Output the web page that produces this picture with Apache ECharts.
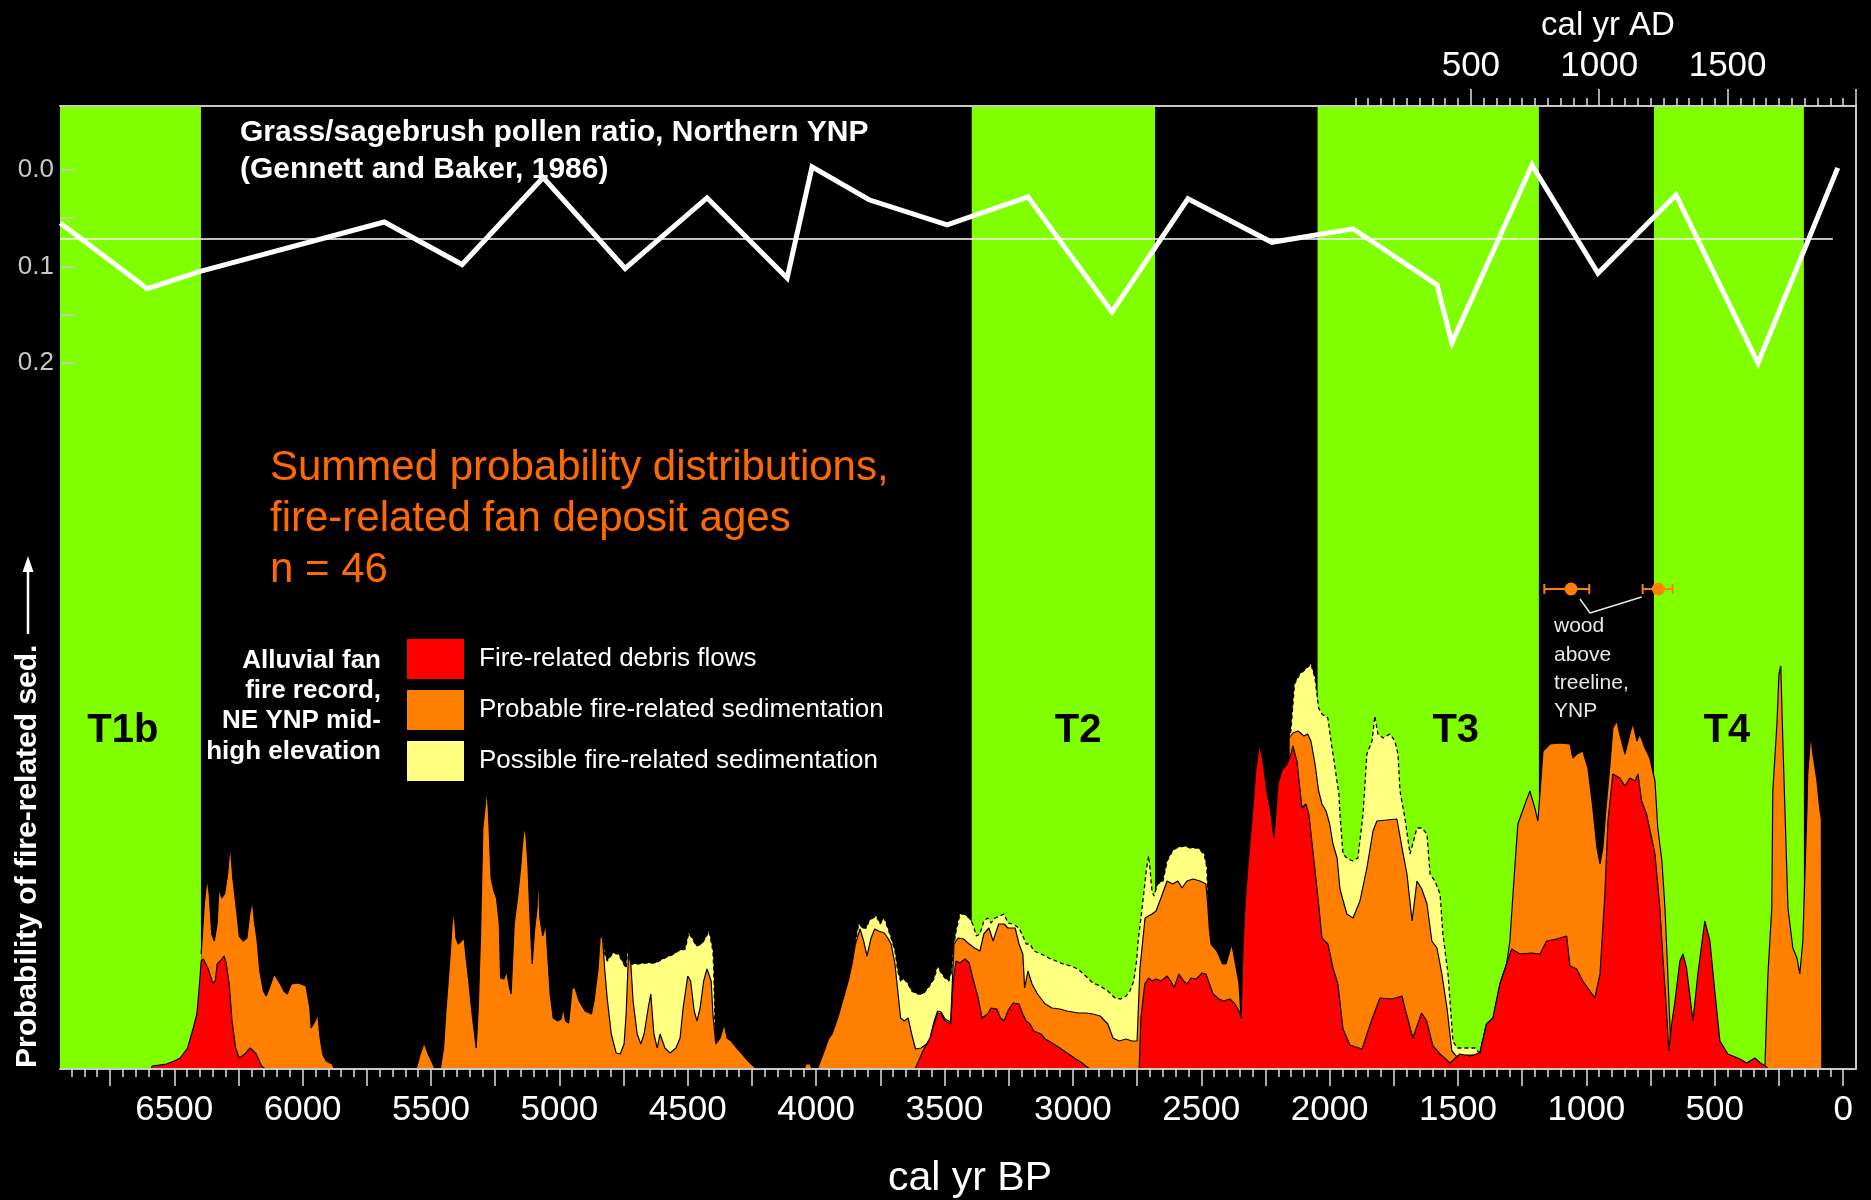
<!DOCTYPE html>
<html>
<head>
<meta charset="utf-8">
<script src="https://cdn.jsdelivr.net/npm/echarts@6/dist/echarts.min.js"></script>
<style>
html,body{margin:0;padding:0;background:#000;}
#chart{width:1871px;height:1200px;}
</style>
</head>
<body>
<div id="chart"></div>
<script>
// ---------- tick labels ----------
const bpLabelValues = [0,500,1000,1500,2000,2500,3000,3500,4000,4500,5000,5500,6000,6500];
const bpMajorTicks = [0,250,500,750,1000,1250,1500,1750,2000,2250,2500,2750,3000,3250,3500,3750,4000,4250,4500,4750,5000,5250,5500,5750,6000,6250,6500,6750];
const adLabelValues = [500,1000,1500];
const adMajorTicks = [500,1000,1500,2000];
const pollenTickValues = [0,0.05,0.1,0.15,0.2];
const pollenLabelValues = [0,0.1,0.2];

// ---------- pollen ratio (Gennett and Baker, 1986) ----------
const pollenBP    = [6944,6605,6399,5682,5379,5063,4744,4425,4113,4016,3794,3490,3175,2848,2552,2225,1909,1582,1524,1212,955,651,332,21];
const pollenRatio = [0.055,0.123,0.105,0.054,0.098,0.008,0.102,0.029,0.112,-0.003,0.031,0.057,0.028,0.147,0.030,0.075,0.061,0.119,0.179,-0.005,0.107,0.026,0.200,-0.002];
const pollenMean = 0.071;

// ---------- summed probability (cumulative tops, relative units) [cal yr BP, value] ----------
const redProb = [
[6590,0],[6586,0.3],[6531,0.5],[6500,0.8],[6477,1.1],[6448,2.1],[6426,4.1],[6412,5.5],[6403,8.1],[6395,10.8],[6387,11.0],[6369,10.1],[6350,8.6],[6340,8.8],[6333,10.5],[6321,10.8],[6306,11.3],[6298,10.6],[6286,8.5],[6275,4.8],[6261,2.1],[6247,1.1],[6225,1.5],[6204,2.1],[6181,1.5],[6160,0.3],[6146,0],
[3615,0],[3584,1.8],[3556,3.1],[3541,4.5],[3527,5.6],[3513,5.5],[3498,4.8],[3476,4.5],[3467,8.5],[3455,10.8],[3440,10.6],[3420,11.0],[3404,10.6],[3390,9.1],[3369,7.1],[3354,5.1],[3332,5.5],[3319,6.1],[3296,6.0],[3282,5.1],[3268,4.8],[3253,5.8],[3233,6.6],[3210,6.5],[3195,5.5],[3182,4.8],[3167,4.5],[3152,3.8],[3124,3.5],[3108,3.0],[3081,2.6],[3051,2.1],[3023,1.6],[2994,1.1],[2964,0.6],[2950,0.3],[2933,0],
[2742,0],[2735,5.1],[2720,8.5],[2705,9.1],[2692,8.8],[2676,9.0],[2657,8.8],[2633,9.3],[2619,8.8],[2606,8.1],[2587,9.5],[2569,8.8],[2556,8.5],[2540,9.1],[2519,9.0],[2497,9.6],[2482,9.5],[2468,8.5],[2454,7.5],[2432,7.0],[2412,6.8],[2389,7.0],[2369,6.5],[2353,5.8],[2345,5.1],[2338,11.8],[2331,15.8],[2318,20.5],[2302,25.1],[2288,29.8],[2274,32.5],[2260,30.8],[2245,27.8],[2230,25.8],[2217,23.1],[2201,28.5],[2187,29.8],[2166,30.5],[2151,31.5],[2143,32.3],[2127,30.7],[2108,26.1],[2093,26.5],[2081,25.5],[2061,20.8],[2043,16.5],[2030,13.1],[2007,12.5],[1987,10.1],[1968,8.5],[1948,4.0],[1921,2.4],[1874,2.0],[1839,4.7],[1804,7.1],[1757,7.0],[1718,7.3],[1707,6.1],[1676,3.1],[1642,5.6],[1622,4.8],[1598,2.3],[1570,1.5],[1531,0.6],[1493,1.5],[1454,1.3],[1415,1.6],[1389,4.5],[1364,5.1],[1337,8.5],[1311,10.5],[1291,12.0],[1259,11.5],[1213,11.6],[1181,11.5],[1155,12.8],[1116,13.0],[1077,13.3],[1064,10.3],[1038,10.0],[1014,8.8],[967,7.1],[947,9.5],[928,17.5],[916,24.8],[897,29.5],[870,29.1],[850,28.3],[831,29.1],[811,28.8],[799,29.5],[785,26.8],[766,25.5],[746,23.1],[733,21.5],[714,16.1],[702,11.1],[688,5.8],[679,1.8],[668,4.5],[655,6.8],[636,10.8],[624,11.5],[610,10.1],[585,4.8],[566,9.5],[539,14.8],[519,12.8],[500,7.8],[480,2.8],[449,1.5],[402,1.0],[376,0.6],[344,1.1],[322,0.6],[298,0.2],[293,0]
];
const orangeProb = [
[6395,11.5],[6383,16.5],[6372,19.1],[6364,17.5],[6354,13.5],[6344,12.8],[6333,14.5],[6326,18.1],[6315,17.1],[6304,17.5],[6292,19.5],[6282,22.5],[6272,19.1],[6263,17.1],[6253,14.8],[6247,13.3],[6231,12.8],[6217,13.1],[6206,15.5],[6196,16.8],[6188,14.8],[6177,12.8],[6167,9.8],[6153,7.8],[6142,7.3],[6131,8.0],[6111,9.5],[6087,8.5],[6073,7.8],[6060,7.5],[6044,8.5],[6017,8.6],[5987,8.3],[5972,6.1],[5967,4.1],[5951,4.8],[5941,5.5],[5932,3.1],[5922,1.5],[5908,0.8],[5886,0.5],[5875,0],
[5558,0],[5542,1.5],[5527,2.6],[5511,1.5],[5484,0],
[5464,0],[5451,2.1],[5442,5.8],[5433,8.8],[5425,11.6],[5418,14.5],[5410,15.8],[5403,13.1],[5394,12.5],[5382,12.8],[5371,13.1],[5365,11.5],[5353,8.8],[5340,5.5],[5324,2.1],[5316,6.1],[5307,13.5],[5298,24.1],[5289,26.3],[5284,28.0],[5277,26.1],[5266,19.1],[5255,17.8],[5245,17.1],[5234,14.5],[5229,9.1],[5216,9.0],[5206,9.8],[5194,8.1],[5188,7.5],[5176,14.5],[5163,17.1],[5151,20.1],[5145,22.1],[5137,24.3],[5129,23.1],[5122,20.1],[5115,15.5],[5106,10.5],[5097,13.8],[5087,16.1],[5083,20.0],[5076,15.1],[5065,13.3],[5053,14.5],[5044,10.8],[5036,7.5],[5024,5.1],[5007,4.8],[4993,5.0],[4985,6.1],[4976,4.8],[4964,4.6],[4950,8.1],[4939,8.1],[4923,6.8],[4900,5.8],[4875,5.5],[4865,6.8],[4849,10.1],[4841,13.3],[4832,13.1],[4823,9.8],[4814,7.1],[4798,3.5],[4779,1.6],[4763,1.5],[4748,2.5],[4740,5.5],[4731,11.5],[4722,10.6],[4713,6.8],[4697,3.5],[4683,2.5],[4670,3.5],[4654,6.1],[4644,7.5],[4632,3.5],[4619,2.1],[4608,3.5],[4589,2.1],[4569,1.6],[4546,2.1],[4530,3.1],[4518,6.1],[4500,9.3],[4489,8.8],[4475,5.8],[4464,4.8],[4452,6.1],[4438,8.8],[4425,10.0],[4409,8.8],[4402,5.5],[4391,2.5],[4374,3.1],[4358,4.5],[4347,3.1],[4331,2.8],[4309,2.1],[4288,1.5],[4265,0.8],[4244,0.3],[4230,0],
[4047,0],[4039,0.5],[4024,0.5],[4016,0],
[3995,0],[3973,1.5],[3952,3.0],[3938,3.5],[3916,5.1],[3895,7.0],[3872,9.1],[3858,10.8],[3847,12.5],[3829,14.0],[3815,12.8],[3802,11.3],[3786,13.1],[3772,14.0],[3757,13.8],[3735,13.6],[3721,13.1],[3708,12.5],[3693,10.5],[3678,6.8],[3671,5.1],[3657,4.8],[3642,5.1],[3628,3.5],[3613,2.0],[3591,2.1],[3570,2.5],[3556,3.1],[3541,4.7],[3527,5.8],[3513,5.7],[3498,5.0],[3476,4.7],[3463,12.5],[3447,13.1],[3426,13.0],[3404,12.5],[3383,12.1],[3362,11.8],[3347,13.5],[3327,14.1],[3311,12.8],[3289,14.5],[3268,14.5],[3253,14.1],[3225,14.1],[3210,12.5],[3195,11.5],[3188,8.1],[3175,9.8],[3159,8.5],[3138,7.5],[3108,6.5],[3081,6.1],[3051,6.0],[3023,5.8],[2980,5.6],[2950,5.6],[2922,5.5],[2894,5.3],[2864,4.5],[2844,3.1],[2820,2.8],[2793,3.0],[2770,2.8],[2750,2.8],[2739,10.0],[2719,15.1],[2692,15.5],[2676,15.8],[2657,17.1],[2633,18.8],[2612,18.5],[2591,18.8],[2575,18.1],[2556,18.8],[2532,19.0],[2505,18.8],[2482,18.5],[2475,16.5],[2468,13.8],[2462,12.5],[2439,11.8],[2417,10.5],[2404,10.5],[2381,12.5],[2369,10.8],[2353,8.5],[2345,5.1],[2342,0],[2162,0],
[2158,33.1],[2143,33.6],[2123,33.8],[2100,33.3],[2086,33.5],[2073,32.8],[2057,30.5],[2043,27.8],[2030,26.5],[2014,25.8],[2000,24.5],[1987,22.5],[1971,21.1],[1960,18.0],[1933,15.5],[1909,15.1],[1882,16.8],[1855,20.1],[1831,23.8],[1816,24.8],[1738,25.0],[1718,22.1],[1699,19.5],[1679,14.8],[1660,18.8],[1641,18.0],[1621,16.5],[1602,12.8],[1582,12.1],[1563,9.5],[1543,6.1],[1524,1.8],[1504,1.2],[1465,1.4],[1434,1.4],[1415,1.6],[1389,4.5],[1364,5.1],[1337,8.5],[1311,10.5],[1298,12.8],[1286,17.5],[1267,24.5],[1239,26.5],[1220,27.8],[1201,26.1],[1189,24.8],[1181,27.5],[1169,31.8],[1142,32.5],[1103,32.6],[1064,32.5],[1053,31.1],[1037,31.5],[1014,31.8],[994,30.1],[975,26.1],[959,22.1],[947,20.5],[936,22.1],[924,26.0],[908,30.5],[897,34.1],[881,34.8],[870,33.5],[850,31.5],[831,33.5],[819,34.6],[803,32.8],[792,33.5],[772,32.1],[753,31.1],[733,28.8],[722,24.1],[706,20.8],[694,16.1],[683,9.5],[675,4.5],[667,0],
[305,0],[293,9.5],[278,16.1],[274,27.8],[258,34.5],[250,39.5],[243,40.3],[235,32.8],[227,26.1],[215,16.1],[196,12.1],[180,11.1],[169,9.5],[157,12.8],[149,19.5],[141,26.1],[138,29.5],[126,33.5],[118,31.5],[102,28.8],[91,26.0],[85,25.0],[83,0]
];
const yellowProb = [
[4832,13.1],[4823,11.5],[4814,10.8],[4791,11.6],[4770,11.5],[4756,10.8],[4740,10.1],[4734,12.1],[4726,10.5],[4697,10.5],[4662,10.6],[4626,10.6],[4589,11.1],[4553,11.5],[4539,11.8],[4510,12.0],[4496,13.6],[4481,13.0],[4467,12.3],[4446,12.5],[4431,13.1],[4417,13.8],[4402,11.8],[4399,10.1],[4393,3.0],[4390,0],
[3860,0],[3858,10.8],[3847,12.8],[3833,14.6],[3822,14.1],[3805,14.1],[3794,14.8],[3779,15.1],[3765,15.3],[3751,14.5],[3735,15.1],[3721,14.1],[3708,13.1],[3693,11.8],[3682,9.8],[3671,8.8],[3657,9.0],[3642,8.5],[3628,7.8],[3607,7.5],[3584,7.5],[3564,8.1],[3541,9.0],[3527,10.3],[3513,9.6],[3498,9.1],[3483,8.8],[3472,9.8],[3467,11.8],[3455,13.8],[3440,15.5],[3426,15.5],[3404,15.1],[3390,14.5],[3376,13.3],[3362,13.5],[3347,14.8],[3332,15.1],[3319,14.6],[3303,15.1],[3285,15.3],[3268,15.5],[3253,14.6],[3233,14.5],[3210,14.1],[3195,13.3],[3182,12.5],[3167,12.5],[3152,11.8],[3124,11.5],[3094,11.1],[3066,10.8],[3038,10.5],[3008,10.3],[2980,10.0],[2950,9.3],[2922,8.6],[2894,8.3],[2864,7.8],[2836,7.1],[2814,7.0],[2793,7.3],[2778,7.8],[2763,8.8],[2752,10.8],[2746,12.8],[2735,15.1],[2723,17.8],[2713,20.1],[2705,21.3],[2700,20.1],[2692,17.8],[2684,17.3],[2670,18.5],[2649,18.8],[2633,20.8],[2612,21.8],[2598,22.1],[2569,22.3],[2540,22.1],[2513,22.1],[2489,21.5],[2478,20.1],[2475,16.5],[2473,0],
[2160,0],[2158,33.1],[2151,33.8],[2137,38.5],[2116,39.5],[2093,40.0],[2073,40.5],[2057,39.1],[2043,36.1],[2030,35.5],[2007,35.1],[1993,32.5],[1979,30.1],[1964,27.5],[1960,25.5],[1948,21.5],[1929,21.0],[1909,20.8],[1890,21.1],[1870,25.5],[1855,31.5],[1835,32.8],[1824,35.3],[1812,33.5],[1792,33.1],[1765,33.5],[1746,32.8],[1734,31.5],[1726,27.8],[1707,25.1],[1687,21.5],[1660,24.1],[1641,24.1],[1621,23.5],[1609,19.5],[1590,18.8],[1570,17.5],[1559,13.5],[1539,9.5],[1520,2.8],[1504,2.1],[1465,2.1],[1434,2.1],[1415,1.5],[1389,4.5],[1387,0]
];

// ---------- terraces / stratigraphic intervals ----------
const bandNames   = ['T1b','T2','T3','T4'];
const bandStartBP = [6945,3394,2047,737];
const bandEndBP   = [6396,2680,1185,153];
const bandLabelBP = [6700,2980,1509,453];

// ---------- wood above treeline dates ----------
const woodBP   = [1060,720];
const woodLoBP = [989,664];
const woodHiBP = [1164,781];

const FONT = 'Liberation Sans, Arial, Helvetica, sans-serif';
const bpMinorTicks = []; for (let v = 0; v <= 6900; v += 50) bpMinorTicks.push(v);
const adMinorTicks = []; for (let v = 50; v <= 1950; v += 50) adMinorTicks.push(v);

const BP_MIN = -50, BP_MAX = 6945;
const PROB_MAX = 96.3;
const labelLevel = 33.8, woodLevel = 48.0;
const woodLinkBP = [1025, 986, 785], woodLinkLevel = [47.0, 45.6, 47.2];

const chart = echarts.init(document.getElementById('chart'), null, {renderer:'canvas'});
const axisGray = '#c8c8c8';
const plain = v => String(Math.round(v));

const option = {
  backgroundColor: '#000',
  animation: false,
  grid: { left: 60, right: 15, top: 106, bottom: 131, containLabel: false, outerBoundsMode: 'none', show: false },
  legend: {
    left: 402, top: 634, orient: 'vertical', icon: 'rect',
    itemWidth: 57, itemHeight: 40, itemGap: 11, selectedMode: false,
    textStyle: { color: '#fff', fontSize: 26, fontFamily: FONT, padding: [0,0,0,10] },
    data: [
      { name: 'Fire-related debris flows', itemStyle: { color: '#ff0000', borderWidth: 0 } },
      { name: 'Probable fire-related sedimentation', itemStyle: { color: '#ff8000', borderWidth: 0 } },
      { name: 'Possible fire-related sedimentation', itemStyle: { color: '#ffff80', borderWidth: 0 } }
    ]
  },
  xAxis: [
    { type: 'value', inverse: true, min: BP_MIN, max: BP_MAX, position: 'bottom', z: 10,
      axisLine: { show: true, onZero: false, lineStyle: { color: axisGray, width: 2 } },
      axisTick: { show: true, customValues: bpMajorTicks, length: 17, lineStyle: { color: '#e0e0e0', width: 1.5 } },
      axisLabel: { show: true, customValues: bpLabelValues, formatter: plain, color: '#fff', fontSize: 35, fontFamily: FONT, margin: 24 },
      splitLine: { show: false } },
    { type: 'value', inverse: true, min: BP_MIN, max: BP_MAX, position: 'bottom', z: 10,
      axisLine: { show: false, onZero: false },
      axisTick: { show: true, customValues: bpMinorTicks, length: 8, lineStyle: { color: '#e0e0e0', width: 1.5 } },
      axisLabel: { show: false }, splitLine: { show: false } },
    { type: 'value', min: 1950 - BP_MAX, max: 1950 - BP_MIN, position: 'top', z: 10,
      axisLine: { show: true, onZero: false, lineStyle: { color: axisGray, width: 2 } },
      axisTick: { show: true, customValues: adMajorTicks, length: 17, lineStyle: { color: '#e0e0e0', width: 1.5 } },
      axisLabel: { show: true, customValues: adLabelValues, formatter: plain, color: '#fff', fontSize: 35, fontFamily: FONT, margin: 22 },
      splitLine: { show: false } },
    { type: 'value', min: 1950 - BP_MAX, max: 1950 - BP_MIN, position: 'top', z: 10,
      axisLine: { show: false, onZero: false },
      axisTick: { show: true, customValues: adMinorTicks, length: 8, lineStyle: { color: '#e0e0e0', width: 1.5 } },
      axisLabel: { show: false }, splitLine: { show: false } }
  ],
  yAxis: [
    { type: 'value', inverse: true, min: -0.066, max: 0.930, position: 'left', z: 10,
      axisLine: { show: false, onZero: false },
      axisTick: { show: true, inside: true, customValues: pollenTickValues, length: 15, lineStyle: { color: axisGray, width: 1.5 } },
      axisLabel: { show: true, customValues: pollenLabelValues, color: axisGray, fontSize: 26, fontFamily: FONT, margin: 6,
                   formatter: v => Number(v).toFixed(1) },
      splitLine: { show: false } },
    { type: 'value', min: 0, max: PROB_MAX, position: 'right', z: 10,
      axisLine: { show: true, onZero: false, lineStyle: { color: axisGray, width: 2 } },
      axisTick: { show: false }, axisLabel: { show: false }, splitLine: { show: false } }
  ],
  series: [
    { name: 'Possible fire-related sedimentation', type: 'line', xAxisIndex: 0, yAxisIndex: 1, z: 3,
      data: yellowProb, symbol: 'none', showSymbol: false, silent: true,
      itemStyle: { color: '#ffff80' },
      lineStyle: { color: '#000', width: 1.3, type: [4, 3] },
      areaStyle: { color: '#ffff80', opacity: 1 },
      markArea: { silent: true, itemStyle: { color: '#80ff00' },
        data: bandStartBP.map((s, i) => [{ xAxis: s }, { xAxis: bandEndBP[i] }]) } },
    { name: 'Probable fire-related sedimentation', type: 'line', xAxisIndex: 0, yAxisIndex: 1, z: 4,
      data: orangeProb, symbol: 'none', showSymbol: false, silent: true,
      itemStyle: { color: '#ff8000' },
      lineStyle: { color: '#000', width: 1.2 },
      areaStyle: { color: '#ff8000', opacity: 1 } },
    { name: 'Fire-related debris flows', type: 'line', xAxisIndex: 0, yAxisIndex: 1, z: 5,
      data: redProb, symbol: 'none', showSymbol: false, silent: true,
      itemStyle: { color: '#ff0000' },
      lineStyle: { color: '#000', width: 1.2 },
      areaStyle: { color: '#ff0000', opacity: 1 },
      markPoint: { silent: true, symbol: 'rect', symbolSize: 1, itemStyle: { color: 'rgba(0,0,0,0)' },
        label: { show: true, position: 'inside', formatter: '{b}', color: '#000', fontSize: 40, fontWeight: 'bold', fontFamily: FONT },
        data: bandNames.map((n, i) => ({ name: n, coord: [bandLabelBP[i], labelLevel] })) } },
    { name: 'pollen', type: 'line', xAxisIndex: 0, yAxisIndex: 0, z: 6,
      data: pollenBP.map((b, i) => [b, pollenRatio[i]]), symbol: 'none', showSymbol: false, silent: true,
      lineStyle: { color: '#fff', width: 5, join: 'miter' },
      markLine: { silent: true, symbol: ['none','none'], label: { show: false },
        lineStyle: { color: '#fff', width: 1.5, type: 'solid' },
        data: [[{ coord: [BP_MAX, pollenMean] }, { coord: [40, pollenMean] }]] } },
    { name: 'wood link', type: 'line', xAxisIndex: 0, yAxisIndex: 1, z: 7,
      data: woodLinkBP.map((b, i) => [b, woodLinkLevel[i]]), symbol: 'none', silent: true,
      lineStyle: { color: '#e8e8e8', width: 1.5 } },
    { name: 'wood dates', type: 'custom', xAxisIndex: 0, yAxisIndex: 1, z: 8, silent: true,
      data: woodBP.map((b, i) => [b, woodLoBP[i], woodHiBP[i], woodLevel]),
      renderItem: function (params, api) {
        const y = api.value(3);
        const pm = api.coord([api.value(0), y]);
        const pl = api.coord([api.value(1), y]);
        const ph = api.coord([api.value(2), y]);
        const st = { stroke: '#ff8000', lineWidth: 2 };
        const c = 5;
        return { type: 'group', children: [
          { type: 'line', shape: { x1: pl[0], y1: pl[1], x2: ph[0], y2: ph[1] }, style: st },
          { type: 'line', shape: { x1: pl[0], y1: pl[1] - c, x2: pl[0], y2: pl[1] + c }, style: st },
          { type: 'line', shape: { x1: ph[0], y1: ph[1] - c, x2: ph[0], y2: ph[1] + c }, style: st },
          { type: 'circle', shape: { cx: pm[0], cy: pm[1], r: 6.5 }, style: { fill: '#ff8000' } }
        ]};
      } }
  ],
  graphic: [
    { type: 'text', x: 240, y: 133, style: { text: 'Grass/sagebrush pollen ratio, Northern YNP', fill: '#fff', fontSize: 30, fontWeight: 'bold', fontFamily: FONT, verticalAlign: 'middle' } },
    { type: 'text', x: 240, y: 170, style: { text: '(Gennett and Baker, 1986)', fill: '#fff', fontSize: 30, fontWeight: 'bold', fontFamily: FONT, verticalAlign: 'middle' } },
    { type: 'text', x: 270, y: 468, style: { text: 'Summed probability distributions,', fill: '#ff6a00', fontSize: 42, fontFamily: FONT, verticalAlign: 'middle' } },
    { type: 'text', x: 270, y: 519, style: { text: 'fire-related fan deposit ages', fill: '#ff6a00', fontSize: 42, fontFamily: FONT, verticalAlign: 'middle' } },
    { type: 'text', x: 270, y: 570, style: { text: 'n = 46', fill: '#ff6a00', fontSize: 42, fontFamily: FONT, verticalAlign: 'middle' } },
    { type: 'text', x: 381, y: 706, style: { text: 'Alluvial fan\nfire record,\nNE YNP mid-\nhigh elevation', fill: '#fff', fontSize: 26, fontWeight: 'bold', fontFamily: FONT, align: 'right', verticalAlign: 'middle', lineHeight: 30.3 } },
    { type: 'text', x: 1554, y: 669, style: { text: 'wood\nabove\ntreeline,\nYNP', fill: '#e8e8e8', fontSize: 21, fontFamily: FONT, align: 'left', verticalAlign: 'middle', lineHeight: 28.3 } },
    { type: 'text', x: 1608, y: 26, style: { text: 'cal yr AD', fill: '#fff', fontSize: 33, fontFamily: FONT, align: 'center', verticalAlign: 'middle' } },
    { type: 'text', x: 970, y: 1179, style: { text: 'cal yr BP', fill: '#fff', fontSize: 41, fontFamily: FONT, align: 'center', verticalAlign: 'middle' } },
    { type: 'text', x: 28, y: 1068, rotation: Math.PI / 2, style: { text: 'Probability of fire-related sed.', fill: '#fff', fontSize: 30, fontWeight: 'bold', fontFamily: FONT, align: 'left', verticalAlign: 'middle' } },
    { type: 'line', shape: { x1: 28, y1: 634, x2: 28, y2: 568 }, style: { stroke: '#fff', lineWidth: 2.5 } },
    { type: 'polygon', shape: { points: [[28, 556], [22.5, 572], [33.5, 572]] }, style: { fill: '#fff' } }
  ]
};
chart.setOption(option);
</script>
</body>
</html>
